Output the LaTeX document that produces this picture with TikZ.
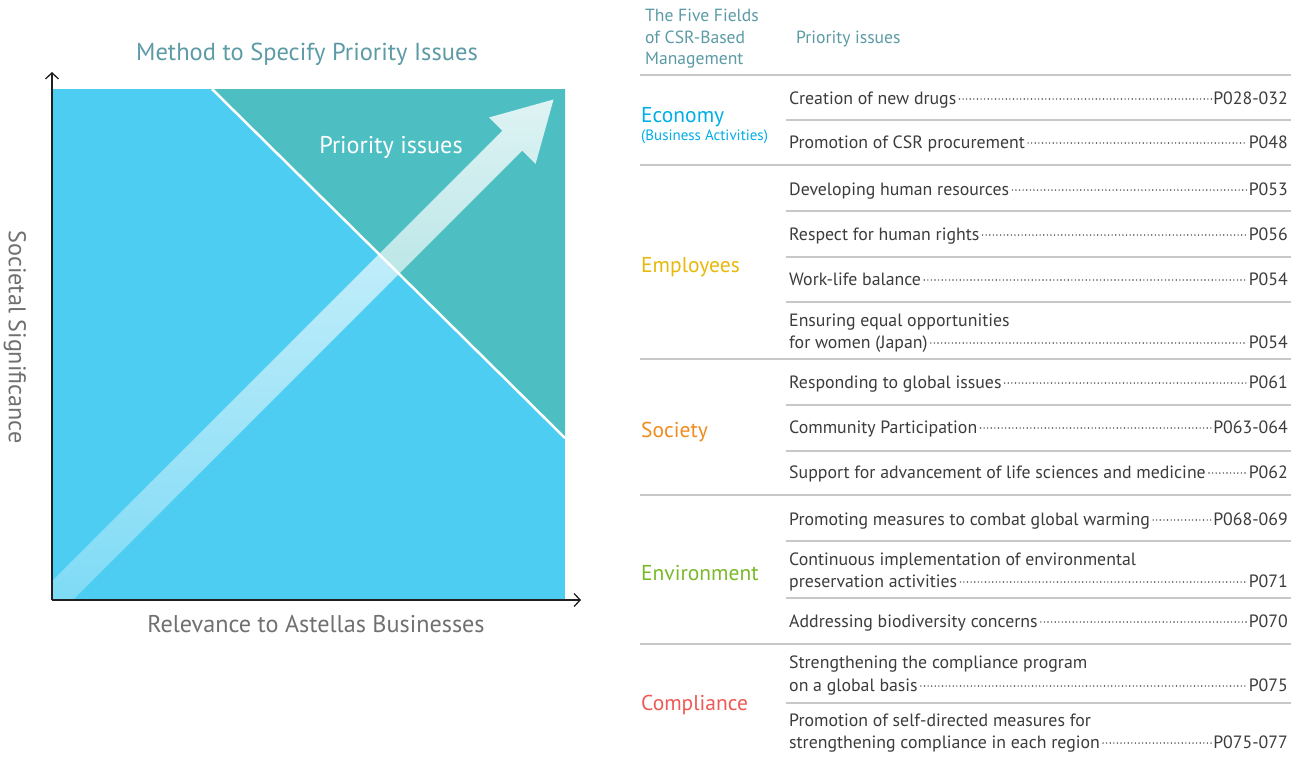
\documentclass[tikz,border=0pt]{standalone}
\usepackage{fontspec}
\setmainfont{PT Sans}
\usetikzlibrary{fadings,arrows.meta}
\definecolor{skyb}{RGB}{77,205,242}
\definecolor{tealc}{RGB}{77,191,194}
\definecolor{headc}{RGB}{92,155,166}
\definecolor{axisc}{RGB}{35,31,32}
\definecolor{lblc}{RGB}{112,112,112}
\definecolor{rowc}{RGB}{60,60,60}
\definecolor{rulec}{RGB}{200,200,200}
\definecolor{dotc}{RGB}{80,80,80}
\definecolor{econc}{RGB}{0,174,232}
\definecolor{emplc}{RGB}{232,185,10}
\definecolor{socc}{RGB}{240,140,30}
\definecolor{envc}{RGB}{122,185,41}
\definecolor{compc}{RGB}{238,90,86}
\tikzfading[name=bandfade, bottom color=transparent!72, top color=transparent!18]
\newcommand\issueline[4]{%
  \node[rowtxt, anchor=base west] (#1) at (789,#2) {#3};
  \node[rowtxt, anchor=base east] (#1p) at (1288,#2) {#4};
  \draw[leader] ([xshift=3pt,yshift=5pt]#1.base east) -- ([xshift=-1pt,yshift=5pt]#1p.base west);}
\newcommand\issuefirst[3]{%
  \node[rowtxt, anchor=base west] (#1) at (789,#2) {#3};}
\begin{document}
\begin{tikzpicture}[x=1pt,y=-1pt,
  rowtxt/.style={inner sep=0pt, text=rowc, font=\fontsize{17.8}{20}\selectfont},
  cattxt/.style={inner sep=0pt, anchor=base west, font=\fontsize{21.5}{24}\selectfont},
  headtxt/.style={inner sep=0pt, anchor=base west, text=headc, font=\fontsize{17.6}{20}\selectfont},
  leader/.style={dotc, line width=1.6pt, line cap=round, dash pattern=on 0pt off 3.6pt},
  fullrule/.style={rulec, line width=1.6pt},
  axisline/.style={axisc, line width=1.3pt, -{Straight Barb[length=6pt,width=13pt,line width=1.3pt]}},
  axlbl/.style={inner sep=0pt, text=lblc, font=\fontsize{24.2}{26}\selectfont}]
\useasboundingbox (0,0) rectangle (1306,756);
\fill[white] (0,0) rectangle (1306,756);

% ---- chart ----
\node[inner sep=0pt, text=headc, font=\fontsize{24.5}{26}\selectfont] (title) at (307,54) {Method to Specify Priority Issues};
\fill[skyb] (52,89) rectangle (565,600);
\fill[tealc] (212,89) -- (565,89) -- (565,438) -- cycle;
\draw[white, line width=2.5pt] (212,89) -- (565,438);
\fill[white, path fading=bandfade] (52,581.2) -- (502.8,130.4) -- (489.4,117) -- (554,99)
   -- (536,163.6) -- (522.6,150.2) -- (72.8,600) -- (52,600) -- cycle;
\node[inner sep=0pt, text=white, font=\fontsize{24.2}{26}\selectfont] (prio) at (391,147) {Priority issues};
\coordinate (origin) at (52,600);
\coordinate (ytip) at (52,72);
\coordinate (xtip) at (581,600);
\draw[axisline] (origin) -- (ytip);
\draw[axisline] (origin) -- (xtip);
\node[axlbl, rotate=-90] (ylbl) at (15,337) {Societal Significance};
\node[axlbl] (xlbl) at (316,624) {Relevance to Astellas Businesses};

% ---- table header ----
\node[headtxt] (h1) at (645,21) {The Five Fields};
\node[headtxt] (h2) at (645,43) {of CSR-Based};
\node[headtxt] (h3) at (645,64) {Management};
\node[headtxt] (h4) at (796,43) {Priority issues};

% rules
\foreach \yy in {75,165,359,495,644} \draw[fullrule] (640,\yy) -- (1291,\yy);
\foreach \yy in {120,211,257,302,405,451,541,598,703} \draw[fullrule] (786,\yy) -- (1291,\yy);

% categories
\node[cattxt, text=econc] (ceco) at (641,122) {Economy};
\node[inner sep=0pt, anchor=base west, text=econc, font=\fontsize{15}{17}\selectfont] (ceco2) at (641,140) {(Business Activities)};
\node[cattxt, text=emplc] (cemp) at (641,272) {Employees};
\node[cattxt, text=socc] (csoc) at (641,437) {Society};
\node[cattxt, text=envc] (cenv) at (641,580) {Environment};
\node[cattxt, text=compc] (ccom) at (641,710) {Compliance};

% issues
\issueline{r1}{104}{Creation of new drugs}{P028-032}
\issueline{r2}{148}{Promotion of CSR procurement}{P048}
\issueline{r3}{195}{Developing human resources}{P053}
\issueline{r4}{240}{Respect for human rights}{P056}
\issueline{r5}{285}{Work-life balance}{P054}
\issuefirst{r6a}{326}{Ensuring equal opportunities}
\issueline{r6}{348}{for women (Japan)}{P054}
\issueline{r7}{388}{Responding to global issues}{P061}
\issueline{r8}{433}{Community Participation}{P063-064}
\issueline{r9}{478}{Support for advancement of life sciences and medicine}{P062}
\issueline{r10}{525}{Promoting measures to combat global warming}{P068-069}
\issuefirst{r11a}{565}{Continuous implementation of environmental}
\issueline{r11}{587}{preservation activities}{P071}
\issueline{r12}{627}{Addressing biodiversity concerns}{P070}
\issuefirst{r13a}{668}{Strengthening the compliance program}
\issueline{r13}{691}{on a global basis}{P075}
\issuefirst{r14a}{726}{Promotion of self-directed measures for}
\issueline{r14}{748}{strengthening compliance in each region}{P075-077}
\end{tikzpicture}
\end{document}
